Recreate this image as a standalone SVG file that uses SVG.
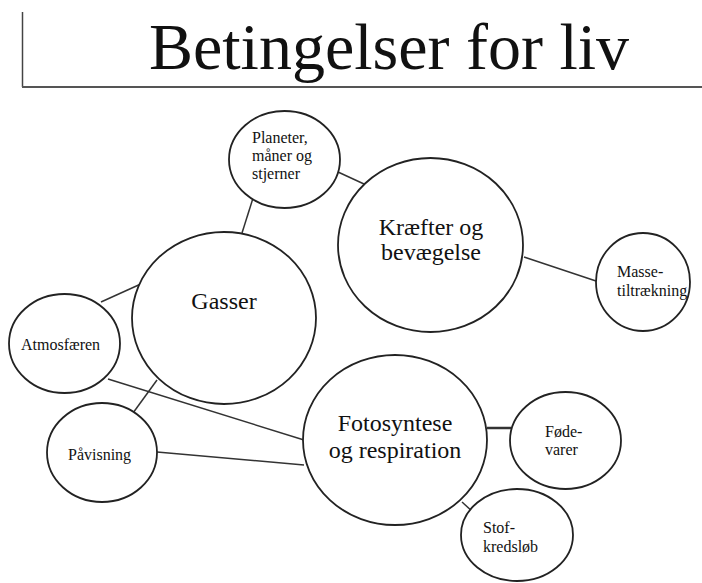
<svg xmlns="http://www.w3.org/2000/svg" width="702" height="583" viewBox="0 0 702 583">
<style>
.n{fill:#fff;stroke:#222;stroke-width:1.8}
.c line{stroke:#333;stroke-width:1.5}
text{font-family:"Liberation Serif","Times New Roman",serif;fill:#111}
.big{font-size:24px;text-anchor:middle}
.sm{font-size:16px}
</style>
<rect width="702" height="583" fill="#fff"/>
<g id="title">
<line x1="22.5" y1="12" x2="22.5" y2="87" stroke="#444" stroke-width="1.5"/>
<line x1="22" y1="87" x2="702" y2="87" stroke="#555" stroke-width="2"/>
<text x="389" y="69" font-size="66" text-anchor="middle">Betingelser for liv</text>
</g>
<g class="c" id="connectors">
<line x1="338" y1="172" x2="364" y2="184"/>
<line x1="254" y1="195" x2="242" y2="233"/>
<line x1="524" y1="257" x2="596" y2="281"/>
<line x1="101" y1="302" x2="143" y2="283"/>
<line x1="108" y1="379" x2="304" y2="440"/>
<line x1="157" y1="380" x2="133" y2="413"/>
<line x1="157" y1="452" x2="304" y2="465"/>
<line x1="487" y1="428" x2="511" y2="428" style="stroke-width:2.5"/>
<line x1="462" y1="502" x2="474" y2="513"/>
</g>
<g id="planeter">
<ellipse class="n" cx="284.5" cy="159.5" rx="55.5" ry="48.5"/>
<text class="sm" x="252" y="143">Planeter,</text>
<text class="sm" x="252" y="161">måner og</text>
<text class="sm" x="252" y="179">stjerner</text>
</g>
<g id="kraefter">
<ellipse class="n" cx="430.5" cy="245" rx="92.5" ry="87"/>
<text class="big" x="431" y="235">Kræfter og</text>
<text class="big" x="431" y="260">bevægelse</text>
</g>
<g id="masse">
<ellipse class="n" cx="643" cy="282" rx="47" ry="49"/>
<text class="sm" x="617" y="277">Masse-</text>
<text class="sm" x="617" y="296">tiltrækning</text>
</g>
<g id="gasser">
<ellipse class="n" cx="224" cy="318" rx="92" ry="86"/>
<text class="big" x="224" y="309">Gasser</text>
</g>
<g id="atmosfaeren">
<ellipse class="n" cx="64.5" cy="343.5" rx="55.5" ry="49.5"/>
<text class="sm" x="21" y="350">Atmosfæren</text>
</g>
<g id="paavisning">
<ellipse class="n" cx="102" cy="452.5" rx="55" ry="49.5"/>
<text class="sm" x="68" y="460">Påvisning</text>
</g>
<g id="fotosyntese">
<ellipse class="n" cx="395" cy="440" rx="92" ry="85"/>
<text class="big" x="395" y="431">Fotosyntese</text>
<text class="big" x="395" y="458">og respiration</text>
</g>
<g id="foedevarer">
<ellipse class="n" cx="565.5" cy="440.5" rx="55.5" ry="48.5"/>
<text class="sm" x="545" y="437">Føde-</text>
<text class="sm" x="545" y="455">varer</text>
</g>
<g id="stofkredsloeb">
<ellipse class="n" cx="517" cy="535" rx="56" ry="46"/>
<text class="sm" x="483" y="533">Stof-</text>
<text class="sm" x="483" y="552">kredsløb</text>
</g>
</svg>
